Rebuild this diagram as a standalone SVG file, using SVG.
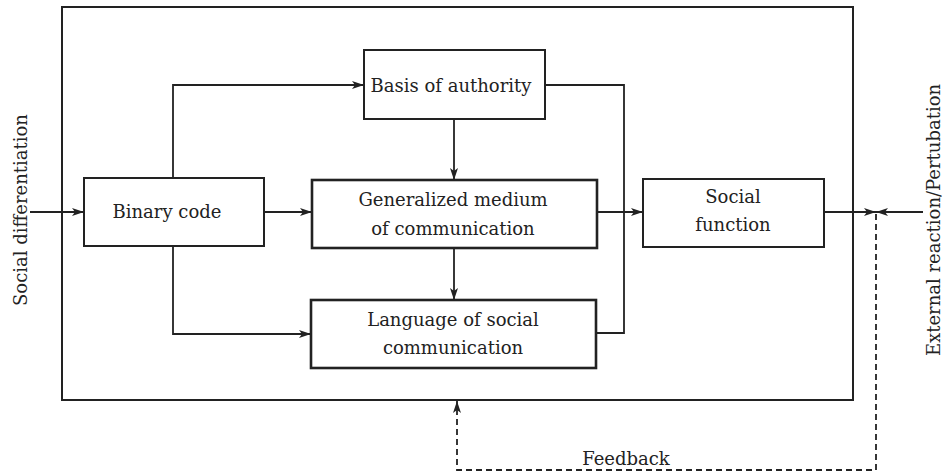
<svg xmlns="http://www.w3.org/2000/svg" width="945" height="472" viewBox="0 0 945 472">
  <defs>
    <marker id="arr" viewBox="0 0 12 8" refX="12" refY="4" markerWidth="12" markerHeight="8" markerUnits="userSpaceOnUse" orient="auto">
      <path d="M0,0 L12,4 L0,8 L3,4 Z" fill="#222"/>
    </marker>
  </defs>
  <style>
    .box { fill: #fff; stroke: #222; stroke-width: 2; }
    .thick { stroke-width: 2.6; }
    .ln { fill: none; stroke: #222; stroke-width: 1.8; }
    .dash { fill: none; stroke: #222; stroke-width: 1.8; stroke-dasharray: 6 4; }
    .t { font-family: "DejaVu Serif", "Liberation Serif", serif; font-size: 18px; fill: #222; text-anchor: middle; }
  </style>
  <rect width="945" height="472" fill="#fff"/>

  <g id="frame">
    <rect x="62" y="7" width="791" height="393" fill="none" stroke="#222" stroke-width="2"/>
  </g>

  <g id="connectors">
    <line class="ln" x1="30" y1="212" x2="84" y2="212" marker-end="url(#arr)"/>
    <polyline class="ln" points="173,178 173,85 364,85" marker-end="url(#arr)"/>
    <polyline class="ln" points="173,246 173,334 311,334" marker-end="url(#arr)"/>
    <line class="ln" x1="264" y1="212" x2="312" y2="212" marker-end="url(#arr)"/>
    <line class="ln" x1="454" y1="119" x2="454" y2="180" marker-end="url(#arr)"/>
    <line class="ln" x1="454" y1="248" x2="454" y2="300" marker-end="url(#arr)"/>
    <polyline class="ln" points="545,85 624,85 624,333 596,333"/>
    <line class="ln" x1="597" y1="212" x2="643" y2="212" marker-end="url(#arr)"/>
    <line class="ln" x1="824" y1="212" x2="876" y2="212" marker-end="url(#arr)"/>
    <line class="ln" x1="923" y1="212" x2="876" y2="212" marker-end="url(#arr)"/>
    <polyline class="dash" points="876,214 876,470 457,470 457,401" marker-end="url(#arr)"/>
  </g>

  <g id="binary-code">
    <rect class="box" x="84" y="178" width="180" height="68"/>
    <text class="t" x="167" y="218">Binary code</text>
  </g>
  <g id="basis-of-authority">
    <rect class="box" x="364" y="50" width="181" height="69"/>
    <text class="t" x="451" y="92">Basis of authority</text>
  </g>
  <g id="generalized-medium">
    <rect class="box thick" x="312" y="180" width="285" height="68"/>
    <text class="t" x="453" y="206">Generalized medium</text>
    <text class="t" x="453" y="235">of communication</text>
  </g>
  <g id="language">
    <rect class="box thick" x="311" y="300" width="285" height="68"/>
    <text class="t" x="453" y="326">Language of social</text>
    <text class="t" x="453" y="354">communication</text>
  </g>
  <g id="social-function">
    <rect class="box" x="643" y="179" width="181" height="68"/>
    <text class="t" x="733" y="203">Social</text>
    <text class="t" x="733" y="231">function</text>
  </g>

  <g id="labels">
    <text class="t" transform="translate(27,210) rotate(-90)" font-size="19.5">Social differentiation</text>
    <text class="t" transform="translate(940,220) rotate(-90)" font-size="19.5">External reaction/Pertubation</text>
    <text class="t" x="626" y="465">Feedback</text>
  </g>
</svg>
